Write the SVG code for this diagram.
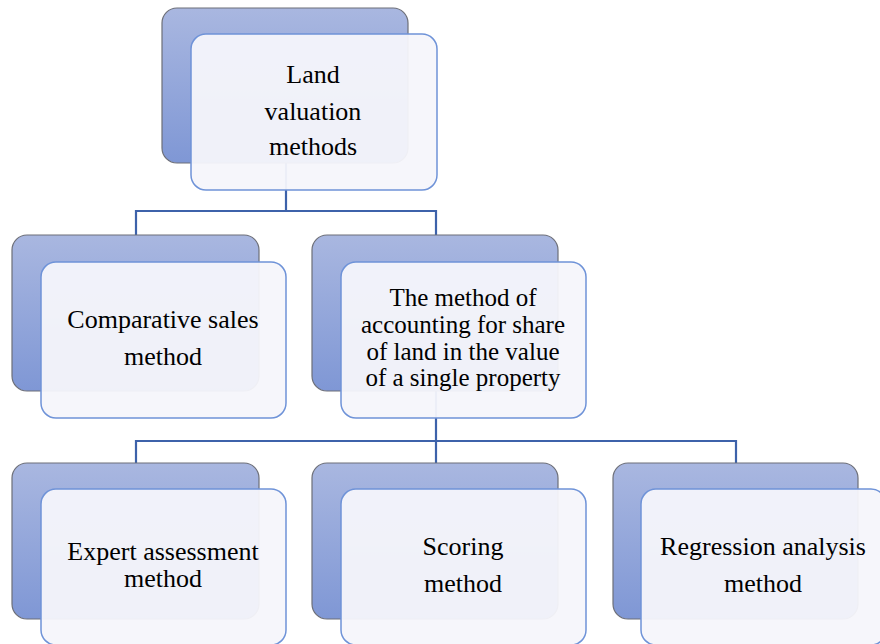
<svg xmlns="http://www.w3.org/2000/svg" width="880" height="644" viewBox="0 0 880 644">
<defs>
<linearGradient id="bg" x1="0" y1="0" x2="0" y2="1">
<stop offset="0" stop-color="#a9b7e0"/>
<stop offset="1" stop-color="#7f97d5"/>
</linearGradient>
<style>
.back{fill:url(#bg);stroke:#6d6f78;stroke-width:1.2}
.front{fill:#f5f6fb;fill-opacity:0.95;stroke:#6f93d8;stroke-width:1.5}
.conn{fill:none;stroke:#3d62aa;stroke-width:2.2}
text{font-family:"Liberation Serif","Times New Roman",serif;font-size:26px;fill:#000;text-anchor:middle}
.sm{font-size:25px}
</style>
</defs>
<rect width="880" height="644" fill="#ffffff"/>
<g id="connectors">
<path class="conn" d="M286 163 V211 M136 235 V211 H436 V235"/>
<path class="conn" d="M436 391 V441 M136 463 V441 H736 V463 M436 441 V463"/>
</g>
<g id="n-land">
<rect class="back" x="162" y="8" width="246" height="155" rx="15"/>
<rect class="front" x="191" y="34" width="246" height="156" rx="15"/>
<text x="313" y="83">Land</text>
<text x="313" y="120">valuation</text>
<text x="313" y="155">methods</text>
</g>
<g id="n-comparative">
<rect class="back" x="12" y="235" width="247" height="156" rx="15"/>
<rect class="front" x="41" y="262" width="245" height="156" rx="15"/>
<text x="163" y="328">Comparative sales</text>
<text x="163" y="365">method</text>
</g>
<g id="n-share">
<rect class="back" x="312" y="235" width="246" height="156" rx="15"/>
<rect class="front" x="341" y="262" width="245" height="156" rx="15"/>
<text class="sm" x="463" y="306">The method of</text>
<text class="sm" x="463" y="333">accounting for share</text>
<text class="sm" x="463" y="360">of land in the value</text>
<text class="sm" x="463" y="386">of a single property</text>
</g>
<g id="n-expert">
<rect class="back" x="12" y="463" width="247" height="156" rx="15"/>
<rect class="front" x="41" y="489" width="245" height="156" rx="15"/>
<text x="163" y="560">Expert assessment</text>
<text x="163" y="587">method</text>
</g>
<g id="n-scoring">
<rect class="back" x="312" y="463" width="246" height="156" rx="15"/>
<rect class="front" x="341" y="489" width="245" height="156" rx="15"/>
<text x="463" y="555">Scoring</text>
<text x="463" y="592">method</text>
</g>
<g id="n-regression">
<rect class="back" x="613" y="463" width="245" height="156" rx="15"/>
<rect class="front" x="641" y="489" width="245" height="156" rx="15"/>
<text x="763" y="555">Regression analysis</text>
<text x="763" y="592">method</text>
</g>
</svg>
